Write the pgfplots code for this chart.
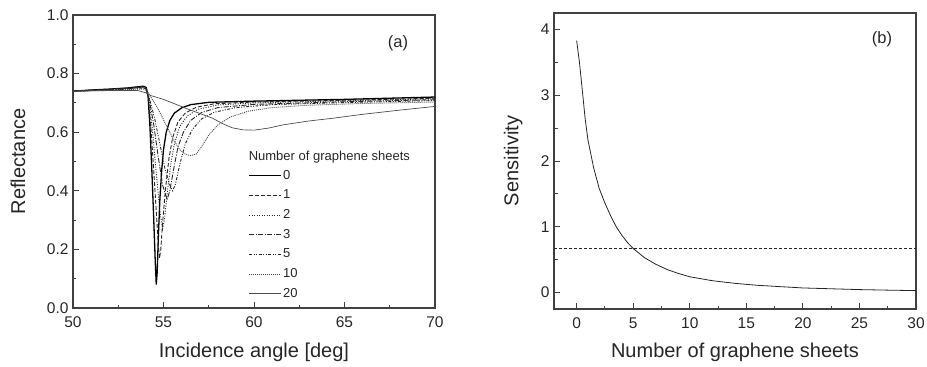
\documentclass[border=0pt]{standalone}
\usepackage{fontspec}
\setmainfont{Liberation Sans}
\usepackage{pgfplots}
\pgfplotsset{compat=1.18}
\begin{document}
\begin{tikzpicture}
\pgfplotsset{
 myax/.style={
  scale only axis, width=362pt,
  axis line style={line width=1.1pt, black!75},
  tick align=inside,
  xtick pos=left, ytick pos=left,
  major tick length=6pt, minor tick length=3.5pt,
  every tick/.style={line width=1pt, black!75},
  ticklabel style={font=\fontsize{15.5}{18}\selectfont, text=black!85},
  xticklabel style={yshift=-5pt},
  yticklabel style={xshift=-1pt},
  /pgf/number format/assume math mode=true,
  clip=true,
 }
}
\begin{axis}[myax, height=293pt,
  xmin=50, xmax=70, ymin=0, ymax=1,
  xtick={50,55,...,70}, minor x tick num=1,
  ytick={0,0.2,0.4,0.6,0.8,1.0}, minor y tick num=1,
  yticklabel style={/pgf/number format/.cd,fixed,fixed zerofill,precision=1},
  xlabel={Incidence angle [deg]}, ylabel={Reflectance},
  every axis x label/.style={at={(axis description cs:0.5,-0.150)}, anchor=center, font=\fontsize{20}{24}\selectfont, text=black!85},
  every axis y label/.style={at={(axis description cs:-0.152,0.5)}, rotate=90, anchor=center, font=\fontsize{20}{24}\selectfont, text=black!85},
  legend style={at={(axis cs:59.7,0.478)}, anchor=north west, draw=none, fill=none,
    font=\fontsize{13}{15}\selectfont, row sep=4.7pt, inner sep=0pt,
    nodes={inner sep=1pt, text height=10pt, text depth=3pt, text=black!85}},
  legend cell align=left,
  legend image code/.code={\draw[#1] (0pt,0pt) -- (32pt,0pt);},
]
\addplot[black, line width=1.3pt] coordinates {(50,0.740)(51,0.744)(52,0.747)(53,0.751)(53.6,0.755)(53.9,0.757)(54.05,0.752)(54.15,0.72)(54.25,0.62)(54.35,0.48)(54.45,0.32)(54.55,0.15)(54.6,0.08)(54.65,0.12)(54.72,0.25)(54.8,0.37)(54.9,0.47)(55.0,0.54)(55.15,0.6)(55.35,0.64)(55.6,0.665)(56.0,0.683)(56.5,0.694)(57.5,0.702)(60,0.706)(65,0.712)(70,0.72)};
\addlegendentry{0}
\addplot[black!85, line width=0.9pt, dash pattern=on 4pt off 2pt] coordinates {(50,0.740)(51,0.744)(52,0.747)(53,0.750)(53.6,0.754)(53.9,0.755)(54.05,0.75)(54.15,0.72)(54.3,0.62)(54.45,0.48)(54.6,0.33)(54.72,0.21)(54.78,0.17)(54.85,0.2)(54.95,0.29)(55.1,0.4)(55.3,0.51)(55.5,0.58)(55.8,0.635)(56.2,0.665)(56.8,0.685)(57.8,0.697)(60,0.703)(65,0.709)(70,0.716)};
\addlegendentry{1}
\addplot[black!85, line width=0.9pt, dash pattern=on 1pt off 1.5pt] coordinates {(50,0.740)(52,0.746)(53,0.749)(53.6,0.753)(53.9,0.754)(54.05,0.748)(54.2,0.71)(54.4,0.6)(54.6,0.46)(54.8,0.33)(54.95,0.27)(55.05,0.3)(55.2,0.39)(55.4,0.49)(55.6,0.56)(55.9,0.62)(56.3,0.655)(56.9,0.678)(58,0.693)(60,0.7)(65,0.707)(70,0.714)};
\addlegendentry{2}
\addplot[black!85, line width=0.9pt, dash pattern=on 5pt off 1.5pt on 1pt off 1.5pt] coordinates {(50,0.740)(52,0.745)(53,0.748)(53.6,0.752)(53.9,0.753)(54.05,0.746)(54.2,0.715)(54.45,0.63)(54.7,0.52)(54.95,0.42)(55.2,0.37)(55.35,0.4)(55.55,0.47)(55.8,0.55)(56.1,0.6)(56.5,0.64)(57.1,0.667)(58,0.684)(60,0.695)(65,0.704)(70,0.711)};
\addlegendentry{3}
\addplot[black!85, line width=0.9pt, dash pattern=on 3pt off 1.5pt on 1pt off 1.5pt on 1pt off 1.5pt] coordinates {(50,0.740)(52,0.744)(53,0.747)(53.6,0.75)(53.9,0.751)(54.05,0.745)(54.2,0.72)(54.5,0.65)(54.8,0.56)(55.1,0.47)(55.35,0.42)(55.5,0.40)(55.65,0.42)(55.9,0.49)(56.2,0.56)(56.6,0.61)(57.1,0.645)(57.8,0.668)(59,0.684)(61,0.694)(65,0.701)(70,0.708)};
\addlegendentry{5}
\addplot[black!70, line width=0.9pt, dash pattern=on 1pt off 1pt] coordinates {(50,0.740)(52,0.743)(53,0.745)(53.6,0.747)(53.9,0.747)(54.1,0.74)(54.3,0.72)(54.7,0.68)(55.1,0.63)(55.5,0.58)(55.9,0.54)(56.2,0.525)(56.5,0.52)(56.8,0.525)(57.1,0.55)(57.5,0.59)(58,0.625)(58.7,0.652)(59.7,0.672)(61,0.684)(63,0.692)(66,0.698)(70,0.703)};
\addlegendentry{10}
\addplot[black!70, line width=0.7pt] coordinates {(50,0.740)(52,0.742)(53,0.742)(53.6,0.742)(54,0.735)(54.3,0.725)(55,0.712)(56.3,0.68)(57,0.664)(57.7,0.648)(58.3,0.628)(58.8,0.615)(59.4,0.608)(60,0.607)(60.8,0.614)(61.6,0.625)(63,0.638)(64.4,0.648)(66,0.661)(68,0.675)(70,0.688)};
\addlegendentry{20}
\node[anchor=west, inner sep=0pt, font=\fontsize{13}{15}\selectfont, text=black!85] at (axis cs:59.7,0.515) {Number of graphene sheets};
\node[font=\fontsize{16.5}{19}\selectfont, text=black!85] at (axis cs:67.96,0.905) {(a)};
\end{axis}

\begin{axis}[myax, at={(481pt,-1pt)}, height=296pt,
  xmin=-2, xmax=30, ymin=-0.25, ymax=4.25,
  xtick={0,5,...,30}, minor x tick num=1,
  ytick={0,1,2,3,4}, minor y tick num=1,
  xlabel={Number of graphene sheets}, ylabel={Sensitivity},
  every axis x label/.style={at={(axis description cs:0.5,-0.145)}, anchor=center, font=\fontsize{20}{24}\selectfont, text=black!85},
  every axis y label/.style={at={(axis description cs:-0.113,0.5)}, rotate=90, anchor=center, font=\fontsize{20}{24}\selectfont, text=black!85},
]
\addplot[black!85, line width=0.8pt] coordinates {(0,3.83)(0.25,3.5)(0.5,3.08)(0.75,2.65)(1,2.32)(1.5,1.9)(2,1.58)(2.5,1.36)(3,1.17)(3.5,1.0)(4,0.87)(4.5,0.76)(5,0.67)(6,0.53)(7,0.43)(8,0.35)(9,0.29)(10,0.24)(12,0.18)(14,0.14)(16,0.11)(18,0.09)(20,0.07)(22,0.06)(25,0.045)(28,0.035)(30,0.03)};
\addplot[black!85, line width=1pt, dash pattern=on 3pt off 2pt] coordinates {(-2,0.676)(30,0.676)};
\node[font=\fontsize{16.5}{19}\selectfont, text=black!85] at (axis cs:27.0,3.85) {(b)};
\end{axis}
\pgfresetboundingbox
\useasboundingbox (-73pt,-59pt) rectangle (854pt,308pt);
\end{tikzpicture}
\end{document}
